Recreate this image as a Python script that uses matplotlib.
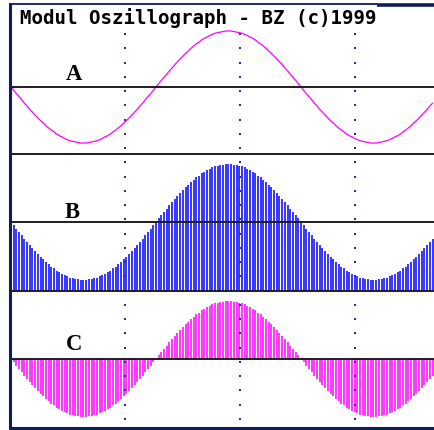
import matplotlib
matplotlib.use("Agg")
import matplotlib.pyplot as plt
import numpy as np

# signal readings, one per sample (same signal in all three traces)
signal = [
    0.00, -0.06, -0.12, -0.17, -0.23, -0.29, -0.34, -0.40, -0.45, -0.50,
    -0.55, -0.60, -0.64, -0.69, -0.73, -0.77, -0.80, -0.84, -0.87, -0.89,
    -0.92, -0.94, -0.96, -0.97, -0.98, -0.99, -1.00, -1.00,
    -1.00, -0.99, -0.98, -0.97, -0.96, -0.94, -0.92, -0.89, -0.87, -0.84,
    -0.80, -0.77, -0.73, -0.69, -0.64, -0.60, -0.55, -0.50, -0.45, -0.40,
    -0.34, -0.29, -0.23, -0.17, -0.12, -0.06, 0.00,
    0.06, 0.12, 0.17, 0.23, 0.29, 0.34, 0.40, 0.45, 0.50, 0.55,
    0.60, 0.64, 0.69, 0.73, 0.77, 0.80, 0.84, 0.87, 0.89, 0.92,
    0.94, 0.96, 0.97, 0.98, 0.99, 1.00, 1.00,
    1.00, 0.99, 0.98, 0.97, 0.96, 0.94, 0.92, 0.89, 0.87, 0.84,
    0.80, 0.77, 0.73, 0.69, 0.64, 0.60, 0.55, 0.50, 0.45, 0.40,
    0.34, 0.29, 0.23, 0.17, 0.12, 0.06, 0.00,
    -0.06, -0.12, -0.17, -0.23, -0.29, -0.34, -0.40, -0.45, -0.50, -0.55,
    -0.60, -0.64, -0.69, -0.73, -0.77, -0.80, -0.84, -0.87, -0.89, -0.92,
    -0.94, -0.96, -0.97, -0.98, -0.99, -1.00, -1.00,
    -1.00, -0.99, -0.98, -0.97, -0.96, -0.94, -0.92, -0.89, -0.87, -0.84,
    -0.80, -0.77, -0.73, -0.69, -0.64, -0.60, -0.55, -0.50, -0.45, -0.40,
    -0.34, -0.29,
]
channels = ["A", "B", "C"]
title = "Modul Oszillograph - BZ (c)1999"

W, H = 435, 431
navy = "#0b1f5c"
magenta = "#ff00ff"
blue = "#0000ff"
dark = "#1e1e1e"

fig = plt.figure(figsize=(W / 100, H / 100), dpi=100)
fig.patch.set_facecolor("white")

n = len(signal)
idx = np.arange(n)
step = 2.685  # pixels per sample
x0 = 11
xlim = ((10 - x0) / step, (W - x0) / step)


def panel(top, bottom, ylim):
    ax = fig.add_axes([10 / W, 1 - bottom / H, (W - 10) / W, (bottom - top) / H])
    ax.set_xlim(*xlim)
    ax.set_ylim(*ylim)
    ax.axis("off")
    return ax


# A: plain trace
axA = panel(5, 155, (-1.196, 1.482))
axA.plot(idx, signal, color=magenta, lw=0.9)
axA.axhline(0, color=dark, lw=1.4)

# B: bars from bottom of panel
yl = (-1.19, 1.172)
axB = panel(155, 292, yl)
axB.vlines(idx, yl[0], signal, color=blue, lw=1.1)
axB.axhline(0, color=dark, lw=1.4, zorder=3)

# C: bars from zero line
axC = panel(292, 429, yl)
axC.vlines(idx, 0, signal, color=magenta, lw=1.1)
axC.axhline(0, color=dark, lw=1.4, zorder=3)

# overlay in pixel coordinates: frame, separators, grid dots, text
ov = fig.add_axes([0, 0, 1, 1], zorder=5)
ov.set_xlim(0, W)
ov.set_ylim(H, 0)
ov.axis("off")
ov.patch.set_alpha(0)

for y in (155, 292):
    ov.plot([10, W], [y, y], color=dark, lw=1.4, solid_capstyle="butt")

ov.plot([10, 10], [4, 430], color=navy, lw=2.2, solid_capstyle="butt")
ov.plot([9, W], [429, 429], color=navy, lw=2.2, solid_capstyle="butt")
ov.plot([9, 377], [5, 5], color=navy, lw=1.3, solid_capstyle="butt")
ov.plot([377, W], [6, 6], color=navy, lw=2.6, solid_capstyle="butt")

dot_y = 35 + 14.26 * np.arange(28)
for gx in (125, 240, 355):
    ov.scatter(np.full(len(dot_y), gx), dot_y, s=2.2, marker="s",
               color="#2a2aa0", linewidths=0)

ov.text(20, 24, title, fontsize=13.8, family="DejaVu Sans Mono",
        weight="bold", color="black", va="baseline", ha="left")

for lab, (lx, ly) in zip(channels, [(73.5, 80), (72, 218), (74, 350)]):
    ov.text(lx, ly, lab, fontsize=16.3, family="Liberation Serif",
            weight="bold", color="black", ha="center", va="baseline")

fig.savefig("out.png", dpi=100)
